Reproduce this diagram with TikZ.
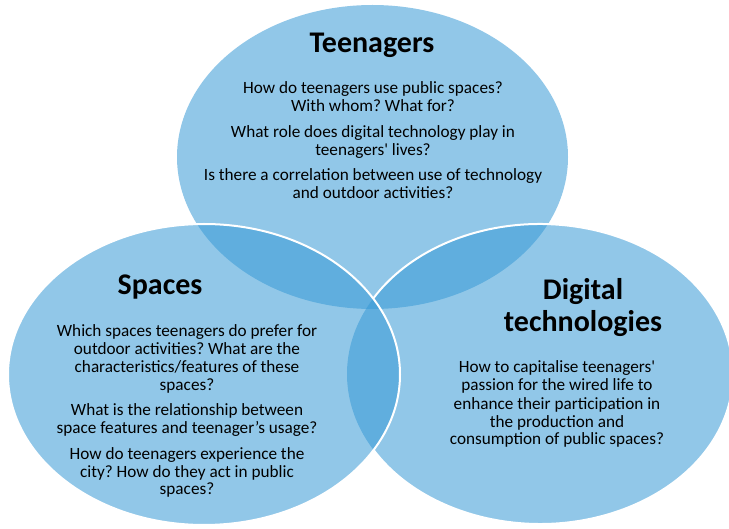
\documentclass[tikz,border=0pt]{standalone}
\usepackage{fontspec}
\setmainfont{Carlito}
\frenchspacing
\usetikzlibrary{positioning}
\definecolor{vennblue}{HTML}{3799D5}

\begin{document}
\begin{tikzpicture}[x=1pt, y=1pt,
    bubble/.style={fill=vennblue, fill opacity=0.55},
    rim/.style={draw=white, line width=2pt},
    heading/.style={font=\fontsize{30}{32}\selectfont\bfseries, align=center, inner sep=0pt, anchor=base},
    question/.style={font=\fontsize{17.2}{18}\selectfont, align=center, inner sep=0pt, anchor=base}
]
\useasboundingbox (0,0) rectangle (729,528);

% Circles
\fill[bubble] (372.5,371) ellipse [x radius=195.5, y radius=152];
\fill[bubble] (540,154) ellipse [x radius=193, y radius=150];
\draw[rim] (540,154) ++(-149.7:193 and 150) arc [start angle=-149.7, end angle=149.7, x radius=193, y radius=150];
\fill[bubble] (204,153.5) ellipse [x radius=196, y radius=150.5];
\draw[rim] (204,153.5) ellipse [x radius=196, y radius=150.5];

% Teenagers (base = last line)
\node[heading] (teentitle) at (372,475) {Teenagers};
\node[question] (teenq) at (373,329) {How do teenagers use public spaces?\\
    With whom? What for?\\[7.5pt]
    What role does digital technology play in\\
    teenagers\textquotesingle{} lives?\\[7.5pt]
    Is there a correlation between use of technology\\
    and outdoor activities?};

% Spaces
\node[heading] (spacetitle) at (160,233) {Spaces};
\node[question] (spaceq) at (187,33) {Which spaces teenagers do prefer for\\
    outdoor activities? What are the\\
    characteristics/features of these\\
    spaces?\\[7.5pt]
    What is the relationship between\\
    space features and teenager’s usage?\\[7.5pt]
    How do teenagers experience the\\
    city? How do they act in public\\
    spaces?};

% Digital technologies
\node[heading] (digititle) at (583,196) {Digital\\technologies};
\node[question] (digiq) at (557,83) {How to capitalise teenagers\textquotesingle\\
    passion for the wired life to\\
    enhance their participation in\\
    the production and\\
    consumption of public spaces?};

\end{tikzpicture}
\end{document}
